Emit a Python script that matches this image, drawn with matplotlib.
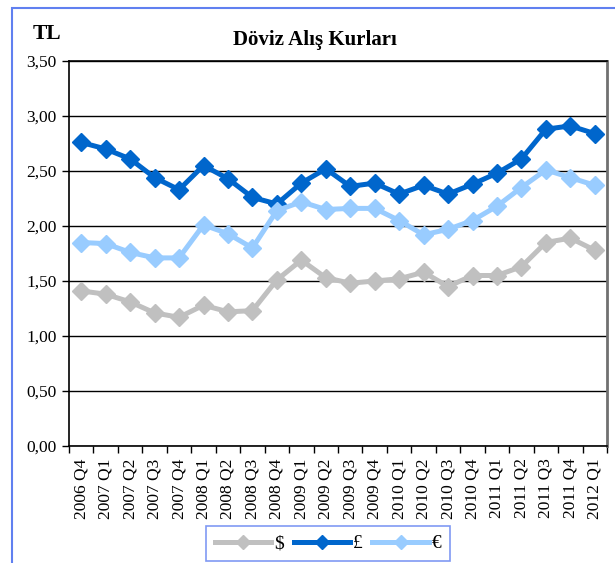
import numpy as np
import matplotlib
matplotlib.use('Agg')
import matplotlib.pyplot as plt
from matplotlib.patches import Rectangle
from matplotlib.ticker import FixedLocator

plt.rcParams['font.family'] = ['Liberation Serif', 'DejaVu Serif']

donemler = ['2006 Q4', '2007 Q1', '2007 Q2', '2007 Q3', '2007 Q4', '2008 Q1', '2008 Q2',
            '2008 Q3', '2008 Q4', '2009 Q1', '2009 Q2', '2009 Q3', '2009 Q4', '2010 Q1',
            '2010 Q2', '2010 Q3', '2010 Q4', '2011 Q1', '2011 Q2', '2011 Q3', '2011 Q4',
            '2012 Q1']
dolar = [1.41, 1.38, 1.31, 1.21, 1.17, 1.28, 1.22, 1.23, 1.51, 1.69, 1.53, 1.48,
         1.50, 1.52, 1.58, 1.45, 1.55, 1.55, 1.63, 1.85, 1.89, 1.78]
sterlin = [2.76, 2.70, 2.61, 2.44, 2.33, 2.55, 2.43, 2.26, 2.20, 2.39, 2.52, 2.36,
           2.39, 2.29, 2.37, 2.29, 2.38, 2.48, 2.61, 2.88, 2.91, 2.84]
euro = [1.85, 1.84, 1.76, 1.71, 1.71, 2.01, 1.93, 1.80, 2.14, 2.22, 2.15, 2.16,
        2.16, 2.05, 1.92, 1.97, 2.05, 2.18, 2.35, 2.51, 2.44, 2.37]
yticks = [0, 0.5, 1.0, 1.5, 2.0, 2.5, 3.0, 3.5]

fig = plt.figure(figsize=(6.15, 5.63), dpi=100)
ax = fig.add_axes([69/615, 1-446/563, (607-69)/615, (446-61)/563])

# mavi dis cerceve
fig.patches.append(Rectangle((12/615, -0.1), 1.2, 1.1 - 8/563, transform=fig.transFigure,
                             fill=False, edgecolor='#6080f0', linewidth=1.5, zorder=0))

x = np.arange(len(donemler))
ax.plot(x, dolar, color='#c0c0c0', lw=3.6, marker='D', ms=9, label='$', zorder=3)
ax.plot(x, sterlin, color='#0066cc', lw=3.6, marker='D', ms=9, label='£', zorder=4)
ax.plot(x, euro, color='#99ccff', lw=3.6, marker='D', ms=9, label='€', zorder=5)

ax.set_xlim(-0.5, len(donemler) - 0.5)
ax.set_ylim(0, 3.5)
ax.set_yticks(yticks)
ax.set_yticklabels([('%.2f' % v).replace('.', ',') for v in yticks])
ax.grid(axis='y', color='black', lw=1)
ax.set_axisbelow(True)

ax.set_xticks(x)
ax.set_xticklabels(donemler, rotation=90)
ax.xaxis.set_minor_locator(FixedLocator(np.arange(-0.5, len(donemler), 1)))
ax.tick_params(axis='x', which='major', length=0, pad=9, labelsize=12.5)
ax.tick_params(axis='x', which='minor', length=5, width=1, direction='out')
ax.tick_params(axis='y', length=5, width=1, direction='out', pad=4, labelsize=12.5)

for s in ['left', 'bottom', 'top']:
    ax.spines[s].set_color('black')
    ax.spines[s].set_linewidth(1.2)
ax.spines['right'].set_color('#707070')
ax.spines['right'].set_linewidth(2)

fig.text(315/615, 1-40/563, 'Döviz Alış Kurları', ha='center', va='center',
         fontsize=15, fontweight='bold')
fig.text(33/615, 1-34/563, 'TL', ha='left', va='center', fontsize=15.5, fontweight='bold')

leg = fig.legend(loc='upper left', bbox_to_anchor=(206/615, 1-526/563), ncol=3,
                 frameon=True, fontsize=14, handlelength=2.9, columnspacing=0.5,
                 handletextpad=0.15, borderaxespad=0, borderpad=0.45, markerscale=0.8)
leg.get_frame().set_edgecolor('#6080f0')
leg.get_frame().set_linewidth(1.2)
leg.get_frame().set_boxstyle('square', pad=0)

fig.savefig('out.png', dpi=100)
